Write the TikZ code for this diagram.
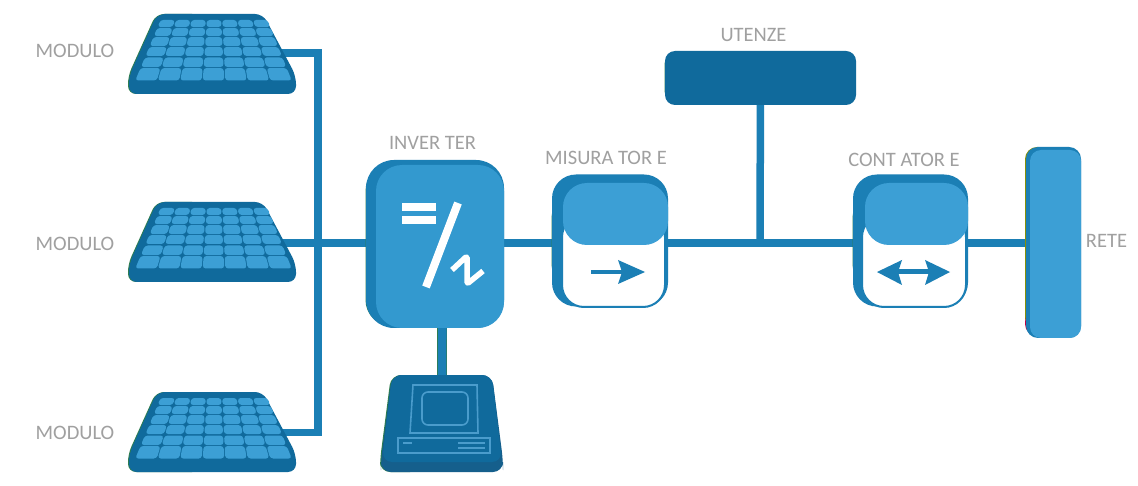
\documentclass[tikz,border=0pt]{standalone}
\usepackage{fontspec}
\setmainfont{Carlito}
\usetikzlibrary{backgrounds}
\definecolor{wirec}{HTML}{1B7FB5}
\definecolor{darkc}{HTML}{106A9C}
\definecolor{deepc}{HTML}{155F8C}
\definecolor{lightc}{HTML}{3399CF}
\definecolor{capc}{HTML}{3C9FD5}
\definecolor{edgec}{HTML}{2E7D4F}
\definecolor{linec}{HTML}{4A9CCC}
\definecolor{textc}{HTML}{A0A0A0}
\tikzset{
  box/.style={inner sep=0pt,outer sep=0pt,rounded corners=#1},
  box/.default=24,
  wire/.style={draw=wirec,line width=7.5pt,line join=miter},
  lab/.style={text=textc,font=\fontsize{20.5}{21}\selectfont,inner sep=0pt},
  glyph/.style={draw=white,line width=8pt},
  scr/.style={draw=linec,line width=1.6pt},
  arrowfill/.style={fill=wirec,draw=none},
}
\newcommand{\solarpanel}[2]{%
  \begin{scope}[shift={(0,#1)}]
    \fill[edgec,rounded corners=8] (156,14) -- (128,76) -- (128,94) -- (200,94) -- (200,14) -- cycle;
    \fill[darkc,rounded corners=8] (157,14) -- (263,14) -- (296,76) -- (296,94) -- (129,94) -- (129,76) -- cycle;
    \foreach \ya/\yb in {20/27,28/36,37/46,47/56,57.5/67,68/80.5}{
      \foreach \c in {0,...,6}{
        \pgfmathsetmacro{\la}{160-25*(\ya-20)/60}
        \pgfmathsetmacro{\lb}{160-25*(\yb-20)/60}
        \pgfmathsetmacro{\ra}{268+24*(\ya-20)/60}
        \pgfmathsetmacro{\rb}{268+24*(\yb-20)/60}
        \pgfmathsetmacro{\wa}{(\ra-\la)/7}
        \pgfmathsetmacro{\wb}{(\rb-\lb)/7}
        \fill[capc,rounded corners=3]
          ({\la+\c*\wa+0.5},\ya) -- ({\la+(\c+1)*\wa-0.5},\ya) --
          ({\lb+(\c+1)*\wb-0.5},\yb) -- ({\lb+\c*\wb+0.5},\yb) -- cycle;
      }
    }
  \end{scope}
}
\begin{document}
\begin{tikzpicture}[x=1pt,y=-1pt]
\useasboundingbox (0,0) rectangle (1138,486);
\begin{scope}[on background layer]
  \fill[white] (0,0) rectangle (1138,486);
\end{scope}

% panels
\solarpanel{0}{pa}
\solarpanel{188}{pb}
\solarpanel{378}{pc}
\coordinate (pa) at (275,53);
\coordinate (pb) at (275,243);
\coordinate (pc) at (275,432.5);
\coordinate (busa) at (318,53);
\coordinate (busc) at (318,432.5);

% inverter
\fill[edgec,box=26] (365.5,165) rectangle (420,326);
\node[box=28,fill=wirec,minimum width=138pt,minimum height=168pt] (inv) at (435,244) {};
\fill[lightc,box=26] (376,165) rectangle (504,328);
\fill[white] (402,203) rectangle (436,211);
\fill[white] (402,216) rectangle (436,224);
\draw[glyph] (458,203) -- (426,287);
\draw[glyph,line width=5.5pt,line join=round,rounded corners=1.5] (452,270) -- (467,256) -- (467,284) -- (483,271);

% computer
\fill[edgec,rounded corners=10] (391,375) -- (420,375) -- (420,472) -- (380,472) -- (380,460) -- cycle;
\fill[deepc,rounded corners=10] (392,375) -- (492,375) -- (503,460) -- (503,472) -- (381,472) -- (381,460) -- cycle;
\fill[darkc,rounded corners=10] (392,375) -- (492,375) -- (502,462) -- (382,462) -- cycle;
\node[inner sep=0pt,minimum width=100pt,minimum height=1pt] (comp) at (442,377) {};
\draw[scr] (413,385) -- (477,385) -- (478,433) -- (410,433) -- cycle;
\draw[scr,rounded corners=6] (422,392) -- (468,392) -- (468,425) -- (422,425) -- cycle;
\draw[scr] (398,438) rectangle (490,453);
\draw[scr,line width=1.2pt] (403,443) -- (412,443);
\draw[scr,line width=1.2pt] (458,443) -- (485,443);
\draw[scr,line width=1.2pt] (458,448) -- (485,448);

% misuratore
\fill[edgec,box=20] (551.5,198) rectangle (575,284);
\node[box=24,fill=wirec,minimum width=116pt,minimum height=132pt] (mis) at (610,240.5) {};
\fill[white,draw=wirec,line width=2pt,box=22] (562,215) rectangle (665,307);
\fill[capc,box=24] (563,183) rectangle (668,245);
\draw[wirec,line width=4.5pt] (591,272) -- (622,272);
\fill[arrowfill] (618,260) -- (645,272) -- (618,284) -- (622,272) -- cycle;

% contatore
\fill[edgec,box=20] (852.5,198) rectangle (875,284);
\node[box=24,fill=wirec,minimum width=115pt,minimum height=132pt] (con) at (910.5,240.5) {};
\fill[white,draw=wirec,line width=2pt,box=22] (862,215) rectangle (966,307);
\fill[capc,box=24] (865,183) rectangle (968,245);
\draw[wirec,line width=5pt] (895,272) -- (932,272);
\fill[arrowfill] (902,260) -- (877,272) -- (902,285) -- (898,272) -- cycle;
\fill[arrowfill] (925,260) -- (950,272) -- (925,285) -- (929,272) -- cycle;

% utenze
\fill[edgec,box=9] (664.5,55) rectangle (690,100);
\node[box=10,fill=darkc,minimum width=191pt,minimum height=54pt] (ute) at (760.5,78) {};

% rete
\fill[olive!85!green,box=12] (1025,147) rectangle (1050,330);
\fill[purple,box=12] (1025,310) rectangle (1050,336);
\node[box=12,fill=wirec,minimum width=55pt,minimum height=191pt] (rete) at (1053.5,242.5) {};
\fill[capc,box=11] (1030,150) rectangle (1081,338);

% connectors
\coordinate (tee) at (760,243);
\begin{scope}[on background layer]
  \draw[wire] (pa) -- (busa) -- (busc) -- (pc);
  \draw[wire] (pb) -- (pb -| inv);
  \draw[wire] (inv |- tee) -- (mis |- tee);
  \draw[wire] (mis |- tee) -- (con |- tee);
  \draw[wire] (ute) -- (tee);
  \draw[wire] (con |- tee) -- (rete |- tee);
  \draw[draw=edgec,line width=10pt] (442,328) -- (442,376);
  \draw[draw=wirec,line width=8.5pt] (442.5,300) -- (comp.center);
\end{scope}

% labels
\node[lab] (la) at (75,51) {MODULO};
\node[lab] (lb) at (75,244) {MODULO};
\node[lab] (lc) at (75,433) {MODULO};
\node[lab] (li) at (432.5,143) {INVER TER};
\node[lab] (lm) at (606,158) {MISURA\ TOR E};
\node[lab] (lu) at (753.5,35) {UTENZE};
\node[lab] (lk) at (904,160) {CONT ATOR E};
\node[lab] (lr) at (1106.5,241) {RETE};
\end{tikzpicture}
\end{document}
